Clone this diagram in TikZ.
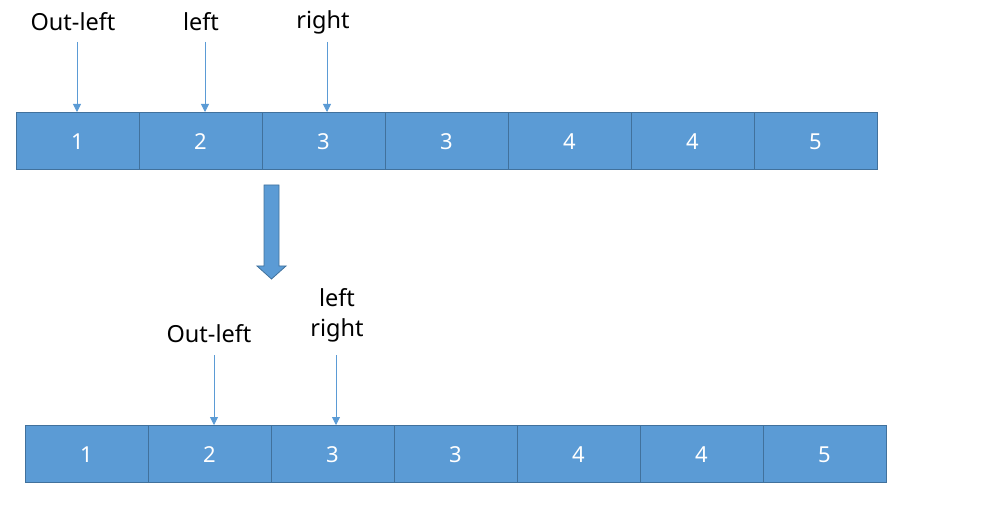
\documentclass[tikz,border=0pt]{standalone}
\usepackage{fontspec}
\setmainfont{Noto Sans}
\usetikzlibrary{arrows.meta}
\definecolor{cellfill}{HTML}{5B9BD5}
\definecolor{celledge}{HTML}{41719C}
\tikzset{
  cell/.style={draw=celledge, line width=0.8pt, fill=cellfill, text=white,
    minimum width=123pt, minimum height=57pt, inner sep=0pt, outer sep=0pt,
    font=\fontsize{22}{24}\selectfont},
  num/.style={text=white, inner sep=0pt, font=\fontsize{22}{24}\selectfont},
  lab/.style={inner sep=0pt, font=\fontsize{23.5}{30}\selectfont, align=center},
  ptr/.style={draw=cellfill, line width=0.8pt, -{Triangle[width=8pt,length=8pt]}}
}
\begin{document}
\begin{tikzpicture}[x=1pt,y=-1pt]
\useasboundingbox (0,0) rectangle (982,521);
% top row
\foreach \v [count=\i] in {1,2,3,3,4,4,5}{
  \node[cell] (t\i) at ({16+61.5+123*(\i-1)},140.5) {};
  \node[num] (tn\i) at ([yshift=-1.5pt]t\i.center) {\v};
}
% bottom row
\foreach \v [count=\i] in {1,2,3,3,4,4,5}{
  \node[cell] (b\i) at ({25+61.5+123*(\i-1)},453.5) {};
  \node[num] (bn\i) at ([yshift=-1.5pt]b\i.center) {\v};
}
% top labels
\node[lab] (tol) at (73,22) {Out-left};
\node[lab] (tl) at (201,22) {left};
\node[lab] (tr) at (323,22) {right};
\coordinate (ta1) at (77,42);
\coordinate (ta2) at (205,42);
\coordinate (ta3) at (327,42);
\draw[ptr] (ta1) -- (ta1 |- t1.north);
\draw[ptr] (ta2) -- (ta2 |- t2.north);
\draw[ptr] (ta3) -- (ta3 |- t3.north);
% big arrow
\filldraw[fill=cellfill, draw=celledge, line width=0.8pt]
  (264,185) -- (279,185) -- (279,266) -- (286,266) -- (271.5,279)
  -- (257,266) -- (264,266) -- cycle;
% bottom labels
\node[lab] (bol) at (209,334) {Out-left};
\node[lab] (blr) at (337,315) {left\\right};
\coordinate (ba1) at (214,355);
\coordinate (ba2) at (336,355);
\draw[ptr] (ba1) -- (ba1 |- b2.north);
\draw[ptr] (ba2) -- (ba2 |- b3.north);
\end{tikzpicture}
\end{document}
